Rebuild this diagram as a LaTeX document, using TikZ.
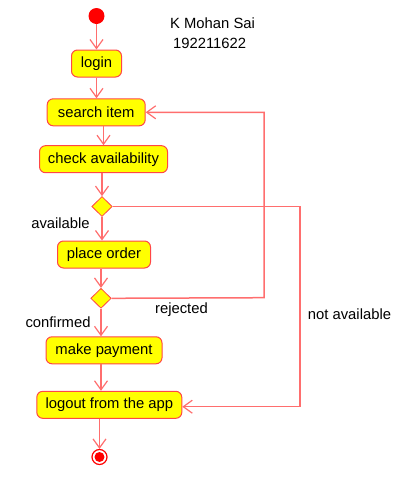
\documentclass[tikz,border=0pt]{standalone}
\usepackage{fontspec}
\setmainfont{Liberation Sans}
\usetikzlibrary{arrows.meta,shapes.geometric}
\definecolor{linecol}{RGB}{255,110,110}
\definecolor{boxline}{RGB}{255,70,70}
\definecolor{boxfill}{RGB}{255,255,0}
\definecolor{dotred}{RGB}{255,0,0}
\begin{document}
\begin{tikzpicture}[x=1pt,y=-1pt,
  every node/.style={font=\fontsize{14.8}{17}\selectfont, inner sep=0pt},
  act/.style={draw=boxline, fill=boxfill, line width=1pt, rounded corners=6pt, minimum height=27pt, align=center},
  dec/.style={draw=boxline, fill=boxfill, line width=0.8pt, diamond, minimum width=20.5pt, minimum height=20pt, inner sep=0pt},
  arr/.style={draw=linecol, line width=1.5pt, -{Straight Barb[length=9pt,width=13pt,line width=1.2pt]}},
  lbl/.style={text=black}
]
\useasboundingbox (0,0) rectangle (400,491);
\node[circle, fill=dotred, minimum size=16pt] (start) at (96.5,16) {};
\node[act, minimum width=50pt] (login) at (96.5,63.5) {login};
\node[act, minimum width=98pt] (search) at (96.2,112.3) {search item};
\node[act, minimum width=128pt] (check) at (103.5,159.2) {check availability};
\node[dec] (d1) at (102,206.5) {};
\node[act, minimum width=93pt] (place) at (104,254.5) {place order};
\node[dec] (d2) at (101,298.3) {};
\node[act, minimum width=116pt] (pay) at (104,350.3) {make payment};
\node[act, minimum width=145pt] (logout) at (109.3,404.8) {logout from the app};
\node[circle, draw=dotred, line width=1.2pt, fill=white, minimum size=15pt] (end) at (99.5,457) {};
\node[circle, fill=dotred, minimum size=10pt] (endin) at (end.center) {};

\node[lbl, anchor=west] (author) at (170,23) {K Mohan Sai};
\node[lbl, anchor=west] (regno) at (173,43.5) {192211622};
\node[lbl] (lavail) at (60.5,223) {available};
\node[lbl] (lrej) at (181.5,309.5) {rejected};
\node[lbl] (lconf) at (58,322) {confirmed};
\node[lbl] (lnot) at (349.5,314) {not available};

\coordinate (r1) at (264,297.7);
\coordinate (r2) at (300,208);

\draw[arr] (start) -- (start |- login.north);
\draw[arr] (login.south) -- (login.south |- search.north);
\draw[arr] (search.south -| check.north) -- (check.north);
\draw[arr] (check.south -| d1.north) -- (d1.north);
\draw[arr] (d1.south) -- (d1.south |- place.north);
\draw[arr] (place.south -| d2.north) -- (d2.north);
\draw[arr] (d2.south) -- (d2.south |- pay.north);
\draw[arr] (pay.south -| d2.south) -- (logout.north -| d2.south);
\draw[arr] (logout.south -| end.north) -- (end.north);
\draw[arr] (d2.east) -- (r1) -- (r1 |- search.east) -- (search.east);
\draw[arr] (d1.east) -- (d1.east -| r2) -- (r2 |- 0,406.7) -- (logout.east |- 0,406.7);
\end{tikzpicture}
\end{document}
